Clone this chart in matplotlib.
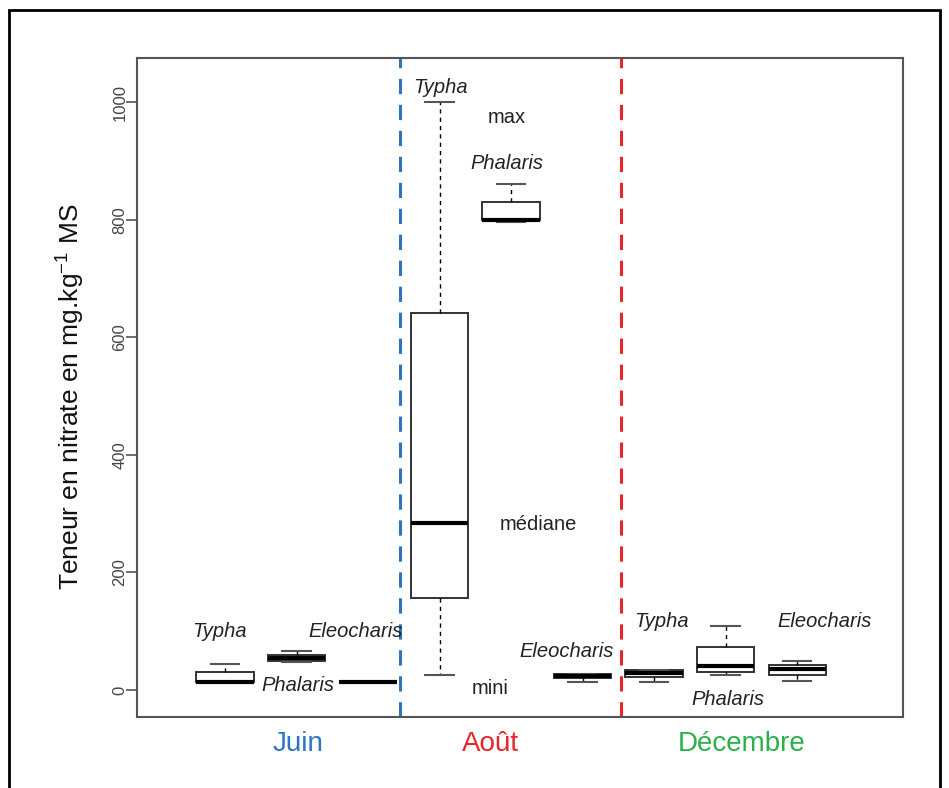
import numpy as np
import matplotlib
matplotlib.use('Agg')
import matplotlib.pyplot as plt
from matplotlib.patches import Rectangle

plt.rcParams['font.family'] = ['Liberation Sans', 'DejaVu Sans']
plt.rcParams['mathtext.fontset'] = 'custom'
plt.rcParams['mathtext.rm'] = 'Liberation Sans'

# 9 boites : Juin, Août, Décembre x (Typha, Phalaris, Eleocharis)
positions = [1, 2, 3, 4, 5, 6, 7, 8, 9]
mini   = [13, 48, 14, 25, 796, 14, 14, 25, 15]
q1     = [13, 50, 14, 156, 799, 20, 22, 31, 26]
mediane = [14, 54, 14, 284, 800, 23, 29, 40, 36]
q3     = [31, 60, 14, 641, 830, 27, 34, 73, 42]
maxi   = [44, 66, 14, 1000, 860, 27, 34, 108, 49]

especes = ['Typha', 'Phalaris', 'Eleocharis',
           'Typha', 'Phalaris', 'Eleocharis',
           'Typha', 'Phalaris', 'Eleocharis']
# positions (x, y) des noms d'espèces en unités de données
lab_x = [0.93, 2.02, 2.82, 4.01, 4.94, 5.77, 7.10, 8.03, 9.39]
lab_y = [100, 7, 100, 1024, 896, 66, 117, -17, 117]

mois = ['Juin', 'Août', 'Décembre']
mois_x = [2.02, 4.71, 8.22]
mois_col = ['#2f74c0', '#e8262a', '#2bb04a']
separations = [3.45, 6.54]

fig = plt.figure(figsize=(9.49, 7.88), dpi=100)
ax = fig.add_axes([0.1444, 0.0901, 0.8071, 0.8363])

stats = []
for i in range(len(positions)):
    stats.append({'med': mediane[i], 'q1': q1[i], 'q3': q3[i],
                  'whislo': mini[i], 'whishi': maxi[i], 'fliers': []})

ax.bxp(stats, positions=positions, widths=0.8, patch_artist=True,
       boxprops=dict(facecolor='white', edgecolor='#333333', linewidth=1.4),
       medianprops=dict(color='black', linewidth=3),
       whiskerprops=dict(color='black', linewidth=1, linestyle=(0, (3, 3))),
       capprops=dict(color='#555555', linewidth=1.5), capwidths=0.4)

ax.axvline(separations[0], color='#2f74c0', lw=2.2, linestyle=(0, (5, 3.5)))
ax.axvline(separations[1], color='#e8262a', lw=2.2, linestyle=(0, (5, 3.5)))

for nom, x, y in zip(especes, lab_x, lab_y):
    ax.text(x, y, nom, style='italic', fontsize=14.5, color='#222222',
            ha='center', va='center')

ax.text(4.94, 973, 'max', fontsize=14.5, ha='center', va='center', color='#222222')
ax.text(5.38, 281, 'médiane', fontsize=14.5, ha='center', va='center', color='#222222')
ax.text(4.71, 3, 'mini', fontsize=14.5, ha='center', va='center', color='#222222')

for m, x, c in zip(mois, mois_x, mois_col):
    ax.text(x, -0.022, m, color=c, fontsize=20, ha='center', va='top',
            transform=ax.get_xaxis_transform())

ax.set_xlim(-0.23, 10.48)
ax.set_ylim(-46, 1075)
ax.set_xticks([])
ax.set_yticks([0, 200, 400, 600, 800, 1000])
ax.set_yticklabels(['0', '200', '400', '600', '800', '1000'], rotation=90,
                   va='center', fontsize=12, color='#444444')
ax.tick_params(axis='y', length=8, color='#555555', width=1.2, pad=-1)
for s in ax.spines.values():
    s.set_color('#555555')
    s.set_linewidth(1.5)

ax.set_ylabel('Teneur en nitrate en mg.kg$^{\\mathregular{-1}}$ MS', fontsize=19,
              color='#111111', va='center')
ax.yaxis.set_label_coords(-0.0875, 0.486)

# cadre extérieur
fig.add_artist(Rectangle((9 / 949, -0.05), 931 / 949, 1 - 10 / 788 + 0.05,
                         transform=fig.transFigure, fill=False,
                         edgecolor='black', linewidth=2))

fig.savefig('out.png', dpi=100)
